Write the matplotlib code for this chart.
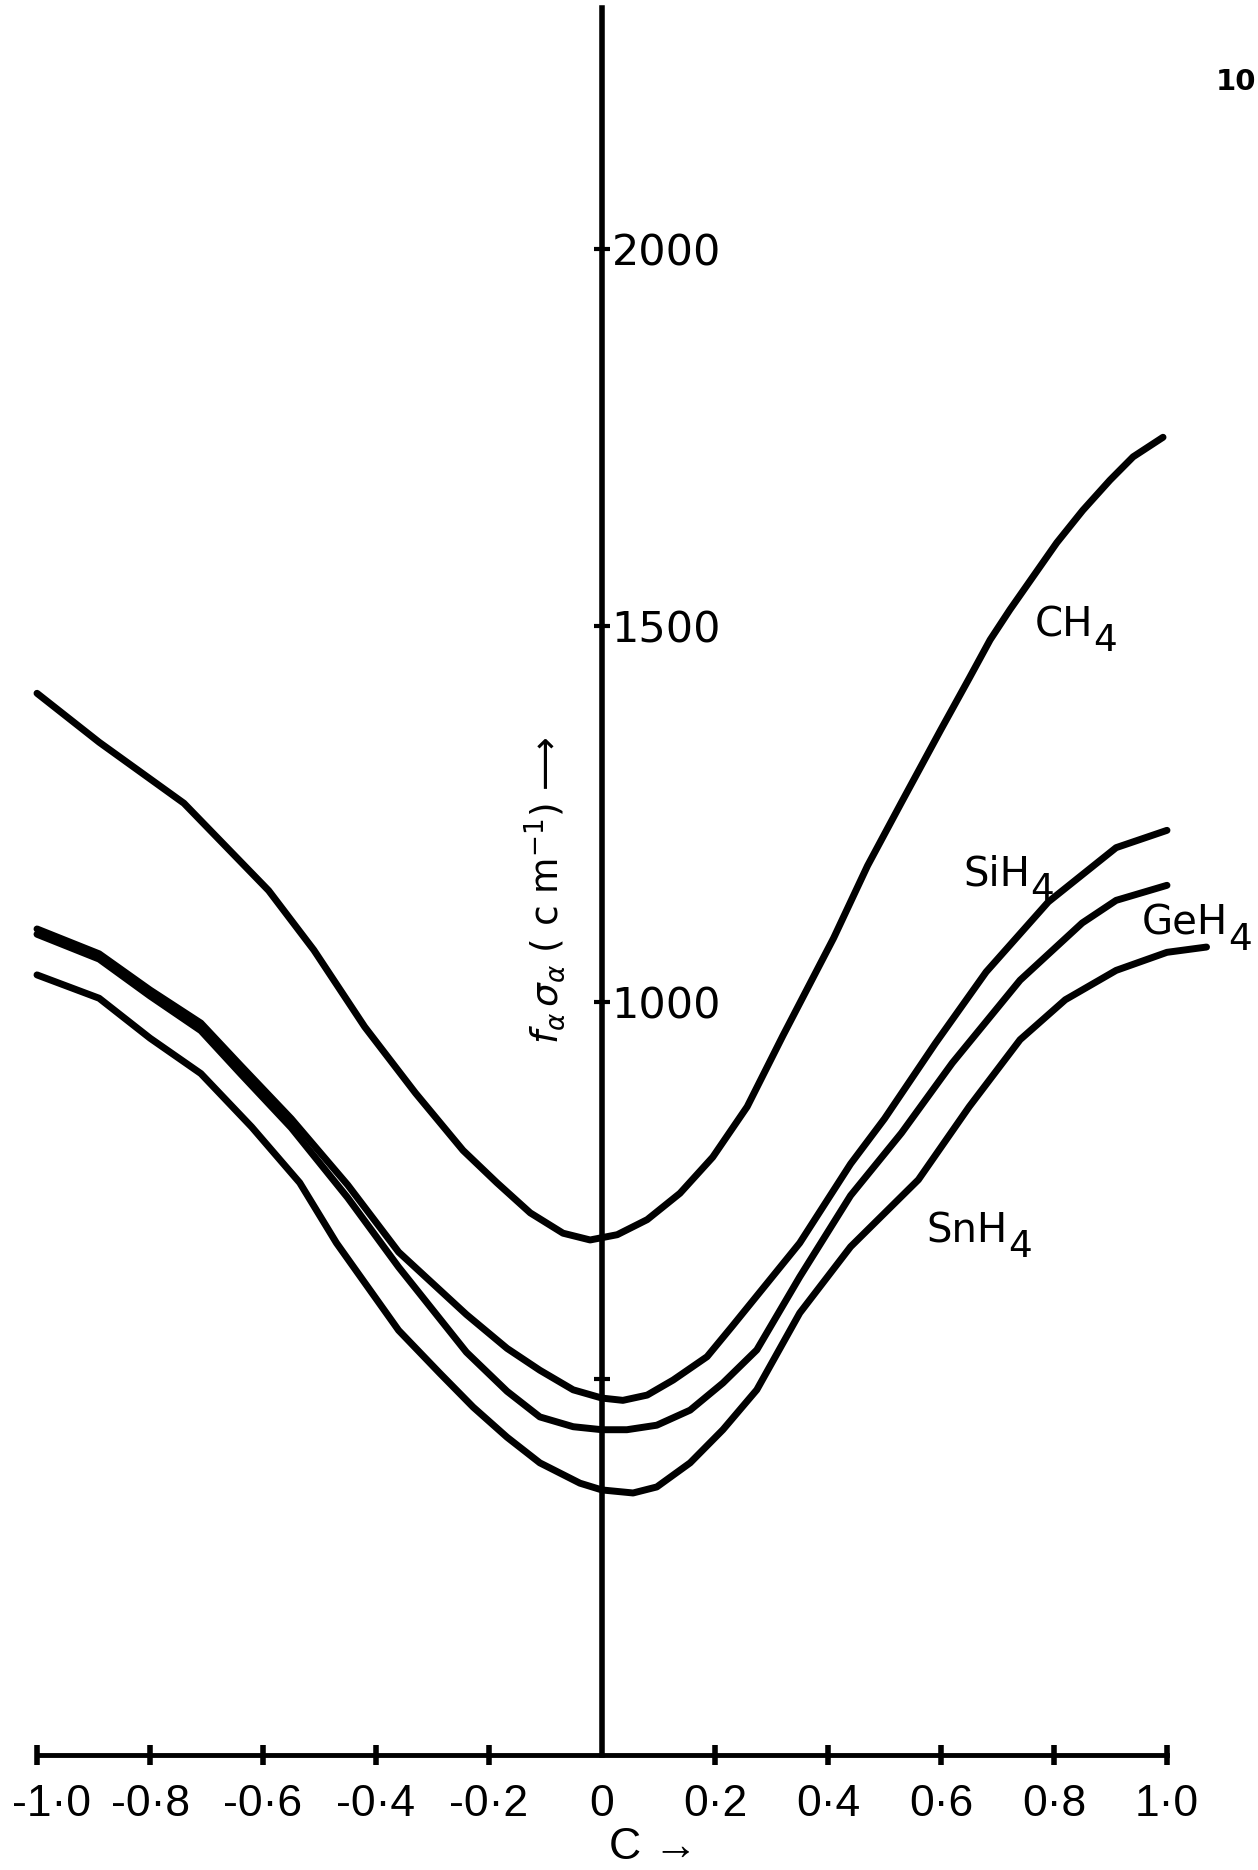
import matplotlib
matplotlib.use("Agg")
import matplotlib.pyplot as plt
from matplotlib.transforms import ScaledTranslation

# values: C on x, f_alpha sigma_alpha (cm^-1) on y
c_ch4 = [-1.0, -0.89, -0.74, -0.59, -0.51, -0.42, -0.33, -0.246, -0.186, -0.127, -0.069, -0.021,
         0.027, 0.08, 0.138, 0.196, 0.257, 0.32, 0.41, 0.47, 0.53, 0.6, 0.65, 0.687,
         0.722, 0.763, 0.805, 0.851, 0.899, 0.94, 0.993]
ch4 = [1410, 1345, 1264, 1148, 1069, 967, 879, 803, 760, 720, 693, 684,
       691, 711, 746, 794, 861, 955, 1085, 1181, 1265, 1362, 1430, 1481,
       1521, 1565, 1610, 1653, 1693, 1724, 1750]

c_sih4 = [-1.0, -0.89, -0.8, -0.71, -0.64, -0.55, -0.45, -0.36, -0.24, -0.168, -0.11, -0.051,
          0.0, 0.037, 0.08, 0.126, 0.186, 0.23, 0.35, 0.44, 0.5, 0.59, 0.68, 0.79, 0.91, 1.0]
sih4 = [1097, 1064, 1016, 972, 916, 845, 757, 668, 585, 540, 511, 485,
        474, 471, 478, 498, 529, 569, 680, 785, 845, 945, 1040, 1133, 1205, 1228]

c_geh4 = [-1.0, -0.89, -0.8, -0.71, -0.64, -0.55, -0.45, -0.36, -0.24, -0.168, -0.11, -0.051,
          0.0, 0.044, 0.097, 0.156, 0.214, 0.274, 0.35, 0.44, 0.53, 0.62, 0.74, 0.85, 0.91, 1.0]
geh4 = [1090, 1057, 1008, 962, 905, 833, 740, 648, 535, 483, 449, 436,
        432, 432, 438, 458, 494, 538, 635, 743, 826, 919, 1029, 1105, 1135, 1155]

c_snh4 = [-1.0, -0.89, -0.8, -0.71, -0.62, -0.535, -0.47, -0.36, -0.287, -0.228, -0.168, -0.11,
          -0.039, 0.0, 0.055, 0.097, 0.156, 0.214, 0.274, 0.35, 0.44, 0.56, 0.65, 0.74,
          0.82, 0.91, 1.0, 1.07]
snh4 = [1036, 1005, 952, 905, 834, 760, 680, 564, 507, 462, 422, 388,
        361, 352, 348, 356, 388, 432, 485, 587, 675, 764, 861, 950,
        1003, 1042, 1066, 1073]

curves = [(c_ch4, ch4), (c_sih4, sih4), (c_geh4, geh4), (c_snh4, snh4)]

names = ['CH', 'SiH', 'GeH', 'SnH']
name_pos = [(0.766, 1485), (0.639, 1155), (0.955, 1089), (0.575, 681)]

c_ticks = [-1.0, -0.8, -0.6, -0.4, -0.2, 0.0, 0.2, 0.4, 0.6, 0.8, 1.0]
c_labels = ['-1·0', '-0·8', '-0·6', '-0·4', '-0·2', '0', '0·2', '0·4', '0·6', '0·8', '1·0']
f_ticks = [500, 1000, 1500, 2000]
f_labels = ['', '1000', '1500', '2000']

tickfont = ['Liberation Sans', 'DejaVu Sans']

fig = plt.figure(figsize=(12.58, 18.70), dpi=100)
ax = fig.add_axes([0, 0, 1, 1])
ax.set_xlim(-1.0655, 1.1611)
ax.set_ylim(-152.7, 2330.7)
ax.set_facecolor('none')

for c, v in curves:
    ax.plot(c, v, color='black', lw=5, solid_capstyle='round', solid_joinstyle='round')

# hand lettered labels: the subscript 4 is nearly full size and dropped
for name, (x, y) in zip(names, name_pos):
    t = ax.text(x, y, name, fontsize=29, ha='left', va='baseline')
    ax.annotate('4', xy=(1, 0), xycoords=t, xytext=(0, -4), textcoords='offset points',
                fontsize=27, ha='left', va='baseline')

# axes drawn through the origin like the hand drawing
ax.spines[['top', 'left']].set_visible(False)
ax.spines['right'].set_position(('data', 0))
ax.spines['bottom'].set_position(('data', 0))
ax.spines['right'].set_bounds(0, 2320)
ax.spines['bottom'].set_bounds(-1, 1)
ax.spines['right'].set_linewidth(4)
ax.spines['bottom'].set_linewidth(3.5)

ax.yaxis.set_ticks_position('right')
ax.xaxis.set_ticks_position('bottom')
ax.set_xticks(c_ticks)
ax.set_xticklabels(c_labels, family=tickfont, fontsize=32)
ax.set_yticks(f_ticks)
ax.set_yticklabels(f_labels, fontsize=31)
ax.tick_params(axis='x', direction='inout', length=14, width=4, pad=14)
ax.tick_params(axis='y', direction='inout', length=12, width=3, pad=1)
ax.xaxis.get_major_ticks()[5].tick1line.set_visible(False)
first = ax.get_xticklabels()[0]
first.set_transform(first.get_transform() + ScaledTranslation(0.14, 0, fig.dpi_scale_trans))

ax.text(0.012, -123, 'C →', family=tickfont, fontsize=32, ha='left', va='center')
ax.text(-0.10, 1149, r'$f_\alpha\,\sigma_\alpha$ ( c m$^{-1}$) ⟶', fontsize=27,
        rotation=90, ha='center', va='center')

fig.text(0.9985, 0.956, '10', fontsize=21, fontweight='bold', ha='right', va='center')

fig.savefig('out.png', dpi=100, facecolor='white')
